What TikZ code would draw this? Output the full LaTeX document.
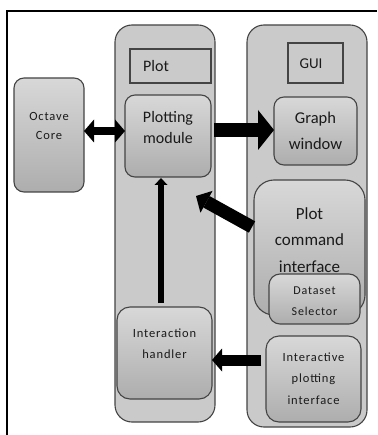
\documentclass[tikz,border=0pt]{standalone}
\usepackage{fontspec}
\setmainfont{Carlito}
\newfontfamily\airy[LetterSpace=7]{Carlito}
\usetikzlibrary{arrows.meta}

\definecolor{panel}{HTML}{CACACA}
\definecolor{edge}{HTML}{444444}
\definecolor{shadetop}{HTML}{D8D8D8}
\definecolor{shadebot}{HTML}{ADADAD}
\definecolor{ink}{HTML}{1A1A1A}

\begin{document}
\begin{tikzpicture}[x=1pt,y=-1pt,
  column/.style={draw=edge, line width=1.1pt, fill=panel, rounded corners=17pt,
    inner sep=0pt, outer sep=0pt},
  tag/.style={draw=edge, line width=1.1pt, fill=panel, inner sep=0pt, outer sep=0pt},
  unit/.style={draw=edge, line width=1.1pt, top color=shadetop, bottom color=shadebot,
    rounded corners=#1, inner sep=0pt, outer sep=0pt},
  unit/.default=11pt,
  caption/.style={text=ink, align=center, inner sep=0pt},
  fat/.style={line width=#1, draw=black, line cap=butt}
]
\useasboundingbox (0,0) rectangle (377,435);

% page frame (top and left edges)
\draw[line width=1.2pt] (7,435) -- (7,11) -- (377,11);

% the two columns
\node[column, minimum width=100pt, minimum height=397pt] (plotcol) at (165,223.5) {};
\node[column, minimum width=120pt, minimum height=402pt] (guicol) at (307,226) {};

% column titles
\node[tag, minimum width=81pt, minimum height=34pt] (plotlab) at (170.5,66) {};
\node[caption, anchor=west, font=\fontsize{16}{19}\selectfont] (plotlabtext) at (143,66) {Plot};
\node[tag, minimum width=55pt, minimum height=40pt] (guilab) at (315.5,63) {};
\node[caption, font=\fontsize{15}{19}\selectfont] (guilabtext) at (311,63.5) {GUI};

% boxes
\node[unit=10pt, minimum width=70pt, minimum height=114pt] (octave) at (49,135) {};
\node[unit=10pt, minimum width=86pt, minimum height=82pt] (pm) at (168,136) {};
\node[unit=10pt, minimum width=83pt, minimum height=68pt] (gw) at (315.5,131) {};
\node[unit=20pt, minimum width=111pt, minimum height=135pt] (pci) at (309.5,247.5) {};
\node[unit=11pt, minimum width=91pt, minimum height=50pt] (ds) at (314.5,299) {};
\node[unit=13pt, minimum width=95pt, minimum height=86pt] (ipi) at (313.5,379) {};
\node[unit=13pt, minimum width=95pt, minimum height=92pt] (ih) at (164.5,353) {};

% box texts
\node[caption, font=\airy\fontsize{12.5}{19}\selectfont] (octavetext) at (49,126) {Octave\\Core};
\node[caption, font=\fontsize{16}{20.5}\selectfont] (pmtext) at (168,127.5) {Plotting\\module};
\node[caption, font=\fontsize{16.5}{26}\selectfont] (gwtext) at (315.5,131) {Graph\\window};
\node[caption, font=\fontsize{17}{26.5}\selectfont] (pcitext) at (309.5,240) {Plot\\command\\interface};
\node[caption, font=\airy\fontsize{12}{21}\selectfont] (dstext) at (314.5,301.5) {Dataset\\Selector};
\node[caption, font=\airy\fontsize{12.5}{21.5}\selectfont] (ipitext) at (313.5,378.5) {Interactive\\plotting\\interface};
\node[caption, font=\airy\fontsize{12.5}{21}\selectfont] (ihtext) at (164.5,343.5) {Interaction\\handler};

% arrow guide coordinates
\coordinate (rowcore) at (0,131);
\coordinate (rowgraph) at (0,130);
\coordinate (rowinter) at (0,360);
\coordinate (colup) at (161,0);
\coordinate (cmdtail) at (252,227);
\coordinate (cmdtip) at (196,196);

% connectors
\draw[fat=8pt, {Triangle[width=23pt,length=10pt,line width=0pt]}-{Triangle[width=23pt,length=10pt,line width=0pt]}]
  (octave.east |- rowcore) -- (pm.west |- rowcore);
\draw[fat=14pt, -{Triangle[width=40pt,length=16pt,line width=0pt]}]
  ([xshift=3pt]pm.east |- rowgraph) -- (gw.west |- rowgraph);
\draw[fat=13pt, -{Triangle[width=25pt,length=12pt,line width=0pt]}] (cmdtail) -- (cmdtip);
\draw[fat=6.5pt, -{Triangle[width=13pt,length=7pt,line width=0pt]}]
  ([yshift=4pt]ih.north -| colup) -- ([yshift=-1pt]pm.south -| colup);
\draw[fat=11pt, -{Triangle[width=23pt,length=10pt,line width=0pt]}]
  ([xshift=-5pt]ipi.west |- rowinter) -- (ih.east |- rowinter);
\end{tikzpicture}
\end{document}
